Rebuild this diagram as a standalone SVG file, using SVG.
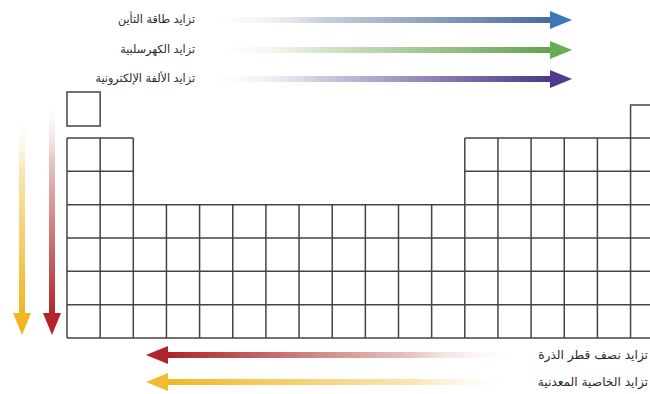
<svg xmlns="http://www.w3.org/2000/svg" width="650" height="394" viewBox="0 0 650 394">
<style>
.grid{fill:none;stroke:#444;stroke-width:1.5}
.lbl{font-family:"DejaVu Sans",sans-serif;font-size:11.2px;fill:#2a2a2a}
.lbl2{font-family:"DejaVu Sans",sans-serif;font-size:12.2px;fill:#2a2a2a}
</style>
<defs>
<linearGradient id="gBlue" gradientUnits="userSpaceOnUse" x1="200" y1="0" x2="555" y2="0">
<stop offset="0" stop-color="#ffffff" stop-opacity="0"/><stop offset="0.35" stop-color="#c8cfdf"/><stop offset="1" stop-color="#46699a"/></linearGradient>
<linearGradient id="gGreen" gradientUnits="userSpaceOnUse" x1="200" y1="0" x2="555" y2="0">
<stop offset="0" stop-color="#ffffff" stop-opacity="0"/><stop offset="0.35" stop-color="#d3e4c8"/><stop offset="1" stop-color="#62a04e"/></linearGradient>
<linearGradient id="gPurple" gradientUnits="userSpaceOnUse" x1="200" y1="0" x2="555" y2="0">
<stop offset="0" stop-color="#ffffff" stop-opacity="0"/><stop offset="0.35" stop-color="#cdc6dd"/><stop offset="1" stop-color="#4a3484"/></linearGradient>
<linearGradient id="gRedV" gradientUnits="userSpaceOnUse" x1="0" y1="95" x2="0" y2="315">
<stop offset="0" stop-color="#ffffff" stop-opacity="0"/><stop offset="0.3" stop-color="#e6c4c0"/><stop offset="1" stop-color="#b1262a"/></linearGradient>
<linearGradient id="gYelV" gradientUnits="userSpaceOnUse" x1="0" y1="110" x2="0" y2="315">
<stop offset="0" stop-color="#ffffff" stop-opacity="0"/><stop offset="0.3" stop-color="#f8e6b0"/><stop offset="1" stop-color="#efb520"/></linearGradient>
<linearGradient id="gRedH" gradientUnits="userSpaceOnUse" x1="520" y1="0" x2="168" y2="0">
<stop offset="0" stop-color="#ffffff" stop-opacity="0"/><stop offset="0.3" stop-color="#e8c8c2"/><stop offset="1" stop-color="#ad2529"/></linearGradient>
<linearGradient id="gYelH" gradientUnits="userSpaceOnUse" x1="525" y1="0" x2="168" y2="0">
<stop offset="0" stop-color="#ffffff" stop-opacity="0"/><stop offset="0.3" stop-color="#f8e8b8"/><stop offset="1" stop-color="#efb828"/></linearGradient>
</defs>
<rect width="650" height="394" fill="#ffffff"/>

<g id="table">
<rect id="H" class="grid" x="67" y="92" width="33.15" height="34"/>
<path id="He" class="grid" d="M630.55 138V105H664"/>
<path id="cells" class="grid" d="M67 138H133.3M67 171.3H133.3M464.8 138H664M464.8 171.3H664M67 204.7H664M67 238H664M67 271.3H664M67 304.7H664M67 338H664
M67 138V338M100.15 138V338M133.3 138V338
M166.45 204.7V338M199.6 204.7V338M232.75 204.7V338M265.9 204.7V338M299.05 204.7V338M332.2 204.7V338M365.35 204.7V338M398.5 204.7V338M431.65 204.7V338
M464.8 138V338M497.95 138V338M531.1 138V338M564.25 138V338M597.4 138V338M630.55 138V338"/>
</g>

<g id="connectors">
<g id="arrow-ionization">
<rect x="200" y="17" width="352" height="6" fill="url(#gBlue)"/>
<polygon points="550,11 572,20 550,29" fill="#3d78b6"/>
</g>
<g id="arrow-electronegativity">
<rect x="200" y="47" width="352" height="6" fill="url(#gGreen)"/>
<polygon points="550,41 572,50 550,59" fill="#68ad55"/>
</g>
<g id="arrow-affinity">
<rect x="200" y="76" width="352" height="6" fill="url(#gPurple)"/>
<polygon points="550,70 572,79 550,88" fill="#4f3a8c"/>
</g>
<g id="arrow-radius-v">
<rect x="49" y="95" width="6" height="220" fill="url(#gRedV)"/>
<polygon points="43,313 52,335 61,313" fill="#b32328"/>
</g>
<g id="arrow-metallic-v">
<rect x="19" y="110" width="6" height="205" fill="url(#gYelV)"/>
<polygon points="13,313 22,335 31,313" fill="#f0b520"/>
</g>
<g id="arrow-radius-h">
<rect x="166" y="352" width="354" height="6" fill="url(#gRedH)"/>
<polygon points="168,346 146,355 168,364" fill="#b02328"/>
</g>
<g id="arrow-metallic-h">
<rect x="166" y="379" width="359" height="6" fill="url(#gYelH)"/>
<polygon points="168,373 146,382 168,391" fill="#f0bc30"/>
</g>
</g>

<g id="labels">
<text class="lbl" x="195" y="23" text-anchor="end">تزايد طاقة التأين</text>
<text class="lbl" x="195" y="53" text-anchor="end">تزايد الكهرسلبية</text>
<text class="lbl" x="195" y="82" text-anchor="end">تزايد الألفة الإلكترونية</text>
<text class="lbl2" x="648" y="359" text-anchor="end">تزايد نصف قطر الذرة</text>
<text class="lbl2" x="648" y="386" text-anchor="end">تزايد الخاصية المعدنية</text>
</g>
</svg>
